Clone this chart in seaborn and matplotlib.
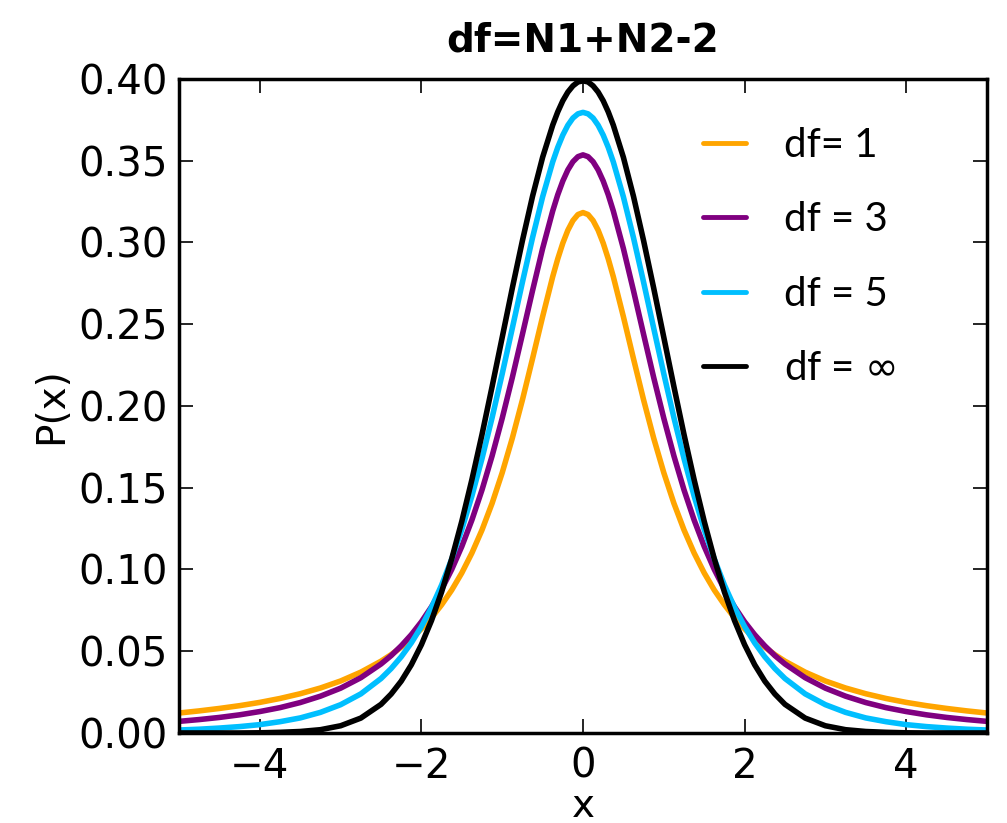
import matplotlib
matplotlib.use("Agg")
import matplotlib.pyplot as plt
import pandas as pd
import seaborn as sns

# values; 0.25 steps in the tails, finer steps in the middle
x_vals = [-5.0, -4.75, -4.5, -4.25, -4.0, -3.75, -3.5, -3.25, -3.0, -2.75,
          -2.5, -2.375, -2.25, -2.125, -2.0, -1.875, -1.75, -1.625, -1.5, -1.375,
          -1.25, -1.125, -1.0, -0.875, -0.75, -0.625, -0.5, -0.375,
          -0.3125, -0.25, -0.1875, -0.125, -0.0625,
          0.0,
          0.0625, 0.125, 0.1875, 0.25, 0.3125,
          0.375, 0.5, 0.625, 0.75, 0.875, 1.0, 1.125, 1.25,
          1.375, 1.5, 1.625, 1.75, 1.875, 2.0, 2.125, 2.25, 2.375, 2.5,
          2.75, 3.0, 3.25, 3.5, 3.75, 4.0, 4.25, 4.5, 4.75, 5.0]

orange_vals = [0.0122, 0.0135, 0.0150, 0.0167, 0.0187, 0.0211, 0.0240, 0.0275, 0.0318, 0.0372,
               0.0439, 0.0479, 0.0525, 0.0577, 0.0637, 0.0705, 0.0784, 0.0874, 0.0979, 0.1101,
               0.1242, 0.1405, 0.1592, 0.1803, 0.2037, 0.2289, 0.2546, 0.2791,
               0.2900, 0.2996, 0.3075, 0.3134, 0.3171,
               0.3183,
               0.3171, 0.3134, 0.3075, 0.2996, 0.2900,
               0.2791, 0.2546, 0.2289, 0.2037, 0.1803, 0.1592, 0.1405, 0.1242,
               0.1101, 0.0979, 0.0874, 0.0784, 0.0705, 0.0637, 0.0577, 0.0525, 0.0479, 0.0439,
               0.0372, 0.0318, 0.0275, 0.0240, 0.0211, 0.0187, 0.0167, 0.0150, 0.0135, 0.0122]

purple_vals = [0.0071, 0.0082, 0.0095, 0.0111, 0.0131, 0.0155, 0.0186, 0.0225, 0.0274, 0.0338,
               0.0422, 0.0473, 0.0533, 0.0601, 0.0680, 0.0772, 0.0878, 0.1000, 0.1141, 0.1303,
               0.1487, 0.1695, 0.1925, 0.2174, 0.2438, 0.2705, 0.2963, 0.3193,
               0.3292, 0.3376, 0.3444, 0.3494, 0.3525,
               0.3536,
               0.3525, 0.3494, 0.3444, 0.3376, 0.3292,
               0.3193, 0.2963, 0.2705, 0.2438, 0.2174, 0.1925, 0.1695, 0.1487,
               0.1303, 0.1141, 0.1000, 0.0878, 0.0772, 0.0680, 0.0601, 0.0533, 0.0473, 0.0422,
               0.0338, 0.0274, 0.0225, 0.0186, 0.0155, 0.0131, 0.0111, 0.0095, 0.0082, 0.0071]

blue_vals = [0.0018, 0.0023, 0.0030, 0.0039, 0.0051, 0.0069, 0.0092, 0.0126, 0.0173, 0.0239,
             0.0333, 0.0394, 0.0466, 0.0551, 0.0651, 0.0768, 0.0905, 0.1064, 0.1245, 0.1450,
             0.1679, 0.1929, 0.2197, 0.2476, 0.2757, 0.3029, 0.3279, 0.3493,
             0.3582, 0.3657, 0.3717, 0.3761, 0.3787,
             0.3796,
             0.3787, 0.3761, 0.3717, 0.3657, 0.3582,
             0.3493, 0.3279, 0.3029, 0.2757, 0.2476, 0.2197, 0.1929, 0.1679,
             0.1450, 0.1245, 0.1064, 0.0905, 0.0768, 0.0651, 0.0551, 0.0466, 0.0394, 0.0333,
             0.0239, 0.0173, 0.0126, 0.0092, 0.0069, 0.0051, 0.0039, 0.0030, 0.0023, 0.0018]

black_vals = [0.0000, 0.0000, 0.0000, 0.0000, 0.0001, 0.0004, 0.0009, 0.0020, 0.0044, 0.0091,
              0.0175, 0.0238, 0.0317, 0.0417, 0.0540, 0.0688, 0.0863, 0.1065, 0.1295, 0.1550,
              0.1826, 0.2119, 0.2420, 0.2721, 0.3011, 0.3282, 0.3521, 0.3718,
              0.3799, 0.3867, 0.3920, 0.3958, 0.3982,
              0.3989,
              0.3982, 0.3958, 0.3920, 0.3867, 0.3799,
              0.3718, 0.3521, 0.3282, 0.3011, 0.2721, 0.2420, 0.2119, 0.1826,
              0.1550, 0.1295, 0.1065, 0.0863, 0.0688, 0.0540, 0.0417, 0.0317, 0.0238, 0.0175,
              0.0091, 0.0044, 0.0020, 0.0009, 0.0004, 0.0001, 0.0000, 0.0000, 0.0000, 0.0000]

series_labels = ["df= 1", "df = 3", "df = 5", r"df = $\infty$"]
series_colors = ["#ffa500", "#800080", "#00bfff", "#000000"]
x_ticks = [-4, -2, 0, 2, 4]
y_ticks = [0.00, 0.05, 0.10, 0.15, 0.20, 0.25, 0.30, 0.35, 0.40]

df = pd.concat([
    pd.DataFrame({"x": x_vals, "P": vals, "series": lab})
    for lab, vals in zip(series_labels, [orange_vals, purple_vals, blue_vals, black_vals])
])

sns.set_theme(style="white")
plt.rcParams["font.family"] = ["DejaVu Sans"]
plt.rcParams["mathtext.fontset"] = "dejavusans"
for key in ["text.color", "axes.labelcolor", "xtick.color", "ytick.color", "axes.edgecolor"]:
    plt.rcParams[key] = "black"

fig = plt.figure(figsize=(10.07, 8.23), dpi=100)
ax = fig.add_axes([0.1778, 0.1094, 0.8023, 0.7946])

sns.lineplot(data=df, x="x", y="P", hue="series", hue_order=series_labels,
             palette=series_colors, linewidth=4.0, ax=ax, sort=False)

ax.set_xlim(-5, 5)
ax.set_ylim(0, 0.40)
ax.set_xticks(x_ticks)
ax.set_yticks(y_ticks)
ax.set_xticklabels([f"\u2212{abs(t)}" if t < 0 else str(t) for t in x_ticks])
ax.set_yticklabels([f"{t:.2f}" for t in y_ticks])
ax.tick_params(direction="in", length=10, width=1.2, labelsize=29,
               top=True, right=True, bottom=True, left=True)
ax.tick_params(axis="x", pad=10)
ax.tick_params(axis="y", pad=8)
for sp in ax.spines.values():
    sp.set_linewidth(2.5)

ax.set_xlabel("x", fontsize=28, labelpad=0)
ax.set_ylabel("P(x)", fontsize=28, labelpad=6)
ax.set_title("df=N1+N2-2", fontsize=28, fontweight="bold", pad=20)

leg = ax.legend(frameon=False, loc="upper left", bbox_to_anchor=(0.604, 0.982),
                prop={"family": "Lato", "size": 29}, handlelength=1.05,
                handletextpad=0.95, labelspacing=0.93)
for line in leg.get_lines():
    line.set_linewidth(3.5)

fig.savefig("out.png", dpi=100)
